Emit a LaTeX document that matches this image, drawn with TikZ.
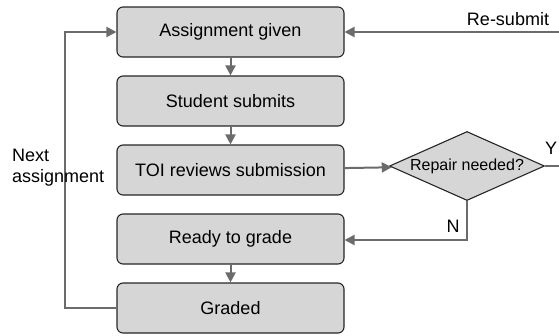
\documentclass[tikz,border=0pt]{standalone}
\usepackage{fontspec}
\setmainfont{Liberation Sans}
\usetikzlibrary{shapes.geometric,arrows.meta}
\begin{document}
\begin{tikzpicture}[x=1pt,y=-1pt,
  stepbox/.style={draw=black!85, line width=1.1pt, fill=black!16, rounded corners=6pt,
    minimum width=227pt, minimum height=50pt, inner sep=0pt,
    font=\fontsize{18}{20}\selectfont},
  decision/.style={diamond, draw=black!85, line width=1.1pt, fill=black!16, aspect=2.25,
    minimum width=155pt, minimum height=69pt, inner sep=0pt,
    font=\fontsize{16}{18}\selectfont},
  flow/.style={draw=black!58, line width=2pt, -{Triangle[length=10pt,width=10pt]}},
  lbl/.style={font=\fontsize{18}{20}\selectfont, inner sep=0pt}]
\useasboundingbox (0,0) rectangle (559,335);
\node[stepbox] (given)  at (230.5,32)  {Assignment given};
\node[stepbox] (submit) at (230.5,101) {Student submits};
\node[stepbox] (review) at (230.5,170) {TOI reviews submission};
\node[stepbox] (ready)  at (230.5,239) {Ready to grade};
\node[stepbox] (graded) at (230.5,308) {Graded};
\node[decision] (repair) at (467,166) {Repair needed?};
\coordinate (yend) at (559,166);
\coordinate (rstart) at (559,32);
\coordinate (nturn) at (467,240);
\coordinate (lbot) at (65,308);
\coordinate (ltop) at (65,32);
% main sequence
\draw[flow] (given) -- (submit);
\draw[flow] (submit) -- (review);
\draw[flow] (review) -- (repair);
\draw[flow] (ready) -- (graded);
% decision branches
\draw[flow] (repair.south) -- (nturn) -- (nturn -| ready.east);
\draw[flow, -] (repair.east) -- (yend);
\draw[flow] (rstart) -- (given.east);
% loop back for the next assignment
\draw[flow] (graded.west) -- (lbot) -- (ltop) -- (given.west);
% labels
\node[lbl] (lresub) at (508,19) {Re-submit};
\node[lbl] (ly) at (551,148) {Y};
\node[lbl] (ln) at (453,226) {N};
\node[lbl, anchor=west] (lnext) at (12,155) {Next};
\node[lbl, anchor=west] (lassign) at (12,178) {assignment};
\end{tikzpicture}
\end{document}
